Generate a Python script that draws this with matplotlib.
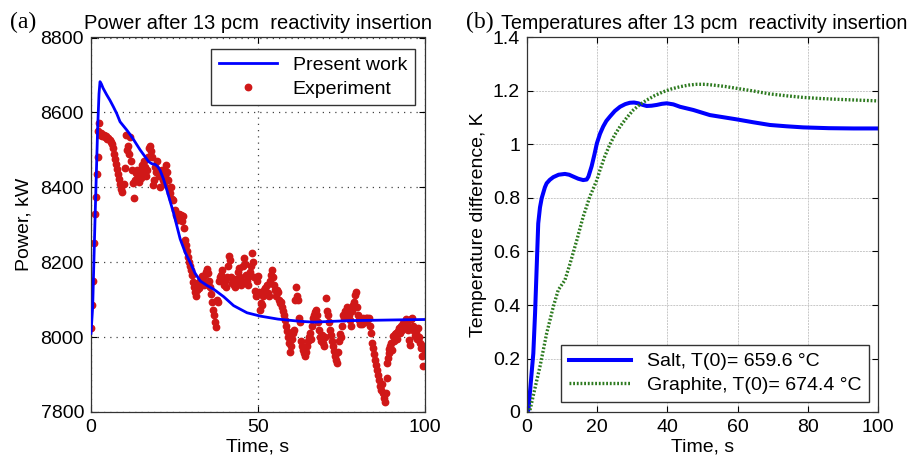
import matplotlib
matplotlib.use('Agg')
import matplotlib.pyplot as plt

plt.rcParams['font.family'] = ['Liberation Sans', 'DejaVu Sans']
plt.rcParams['font.size'] = 14

# (a) power: calculation
calc_time = [0, 0.5, 1.2, 2.0, 2.4, 2.7, 3.1, 3.6, 4.7, 5.7, 6.7, 7.7, 8.7, 9.7, 10.7, 11.7,
             12.7, 14.7, 16.0, 17.2, 18.2, 19.2, 20.0, 20.7, 21.7, 22.7, 24.7, 26.7, 28.2,
             29.7, 31.2, 32.7, 34.7, 36.7, 39.7, 42.7, 46.7, 50.7, 56, 62.8, 66.7,
             72, 77.8, 85, 92, 100]
calc_power = [8010, 8080, 8313, 8560, 8650, 8682, 8676, 8665, 8647, 8632, 8615, 8597, 8575,
              8564, 8553, 8541, 8528, 8500, 8484, 8469, 8463, 8461, 8455, 8445, 8422, 8393,
              8332, 8262, 8226, 8199, 8170, 8150, 8138, 8128, 8108, 8084, 8065, 8056, 8048,
              8042, 8040, 8042, 8044, 8045, 8046, 8047]

# (a) power: experiment
exp_time = [0, 0.3, 0.6, 0.9, 1.2, 1.5, 1.7, 2.0, 2.2, 2.5, 2.8,
            3.1, 3.4, 3.8, 4.1, 4.5, 4.8, 5.2, 5.6, 6.0, 6.3, 6.7, 7.0, 7.3, 7.6, 7.9, 8.2, 8.5,
            8.8, 9.1, 9.4,
            9.8, 10.2, 10.6, 10.9, 11.2, 11.5, 11.8, 12.1, 12.4, 12.7, 13.0, 13.3, 13.6, 13.9,
            14.2, 14.5, 14.8, 15.1, 15.4, 15.7, 16.0, 16.3, 16.6, 16.9, 17.2, 17.5, 17.8, 18.1,
            18.4, 18.7, 19.0, 19.3, 19.6, 19.9, 20.2, 20.5, 20.8, 21.1, 21.4, 21.7, 22.0, 22.3,
            22.6, 22.9, 23.2, 23.5, 23.8, 24.1, 24.4, 24.7, 25.0, 25.3, 25.6, 25.9, 26.2, 26.5,
            26.8, 27.1, 27.4, 27.7, 28.0,
            28.3, 28.6, 28.9, 29.2, 29.5, 29.8, 30.1, 30.4, 30.7, 31.0, 31.3, 31.6, 31.9, 32.2,
            32.5, 32.8, 33.1, 33.4, 33.7, 34.0, 34.3, 34.6, 34.9, 35.2, 35.5, 35.8, 36.1, 36.4,
            36.7, 37.0, 37.3, 37.6, 37.9,
            38.2, 38.5, 38.8, 39.1, 39.4, 39.7, 40.0, 40.3, 40.6, 40.9, 41.2, 41.5, 41.8, 42.1,
            42.4, 42.7, 43.0, 43.3, 43.6, 43.9, 44.2, 44.5, 44.8, 45.1, 45.4, 45.7, 46.0, 46.3,
            46.6, 46.9, 47.2, 47.5, 47.8, 48.1, 48.4, 48.7, 49.0, 49.3, 49.6, 49.9,
            50.2, 50.5, 50.8, 51.1, 51.4, 51.7, 52.0, 52.3, 52.6, 52.9, 53.2, 53.5, 53.8, 54.1,
            54.4, 54.7, 55.0, 55.3, 55.6, 55.9, 56.2, 56.5, 56.8, 57.1, 57.4, 57.7, 58.0, 58.3,
            58.6, 58.9, 59.2, 59.5, 59.8, 60.1, 60.4, 60.7, 61.0, 61.3, 61.6, 61.9,
            62.2, 62.5, 62.8, 63.1, 63.4, 63.7, 64.0, 64.3, 64.6, 64.9, 65.2, 65.5, 65.8, 66.1,
            66.4, 66.7, 67.0, 67.3, 67.6, 67.9, 68.2, 68.5, 68.8, 69.1, 69.4, 69.7, 70.0, 70.3,
            70.6, 70.9, 71.2, 71.5, 71.8, 72.1, 72.4, 72.7, 73.0, 73.3, 73.6, 73.9, 74.2, 74.5,
            74.8,
            75.1, 75.4, 75.7, 76.0, 76.3, 76.6, 76.9, 77.2, 77.5, 77.8, 78.1, 78.4, 78.7, 79.0,
            79.3, 79.6, 79.9, 80.2, 80.5, 80.8, 81.1, 81.4, 81.7, 82.0, 82.3, 82.6, 82.9, 83.2,
            83.5, 83.8, 84.1, 84.4, 84.7, 85.0, 85.3, 85.6, 85.9, 86.2, 86.5, 86.8, 87.1, 87.4,
            87.7, 88.0,
            88.3, 88.5, 88.7, 88.9, 89.1, 89.3, 89.5, 89.8, 90.1, 90.4, 90.7, 91.0, 91.3, 91.6,
            91.9, 92.2, 92.5, 92.8, 93.1, 93.4, 93.7, 94.0, 94.3, 94.6, 94.9, 95.2, 95.5, 95.8,
            96.1, 96.4, 96.7, 97.0, 97.3, 97.6, 97.9, 98.2, 98.5, 98.8, 99.1, 99.4, 99.6, 99.9]
exp_power = [8025, 8085, 8150, 8250, 8330, 8375, 8435, 8480, 8550, 8572, 8540,
             8545, 8538, 8540, 8535, 8537, 8530, 8532, 8525, 8522, 8515, 8505, 8490, 8475, 8462,
             8450, 8435, 8422, 8408, 8395, 8388,
             8410, 8452, 8540, 8500, 8510, 8490, 8535, 8470, 8445, 8411, 8372, 8420, 8439, 8445,
             8430, 8415, 8447, 8425, 8460, 8440, 8470, 8455, 8430, 8445, 8480, 8505, 8510, 8498,
             8480, 8407, 8420, 8455, 8440, 8470, 8445, 8430, 8400, 8433, 8445, 8420, 8410, 8429,
             8460, 8440, 8420, 8399, 8385, 8400, 8370, 8367, 8340, 8327, 8320, 8313, 8330, 8325,
             8327, 8310, 8324, 8290, 8260,
             8245, 8230, 8215, 8200, 8190, 8178, 8165, 8148, 8135, 8120, 8110, 8125, 8145, 8130,
             8150, 8140, 8162, 8150, 8140, 8165, 8175, 8182, 8170, 8150, 8135, 8115, 8095, 8073,
             8060, 8040, 8028, 8100, 8095,
             8150, 8160, 8167, 8180, 8155, 8140, 8150, 8135, 8160, 8189, 8217, 8205, 8160, 8145,
             8150, 8140, 8135, 8155, 8145, 8175, 8185, 8160, 8140, 8150, 8190, 8210, 8195, 8165,
             8150, 8140, 8162, 8175, 8190, 8224, 8200, 8160, 8122, 8110, 8150, 8162,
             8120, 8073, 8090, 8087, 8110, 8125, 8130, 8120, 8140, 8118, 8110, 8150, 8167, 8180,
             8160, 8140, 8125, 8110, 8127, 8120, 8100, 8090, 8095, 8080, 8071, 8060, 8045, 8030,
             8015, 8000, 7985, 7961, 7975, 7995, 8010, 8020, 8100, 8135, 8110, 8100,
             8052, 8040, 7990, 7975, 7965, 7958, 7950, 7960, 7975, 7990, 8000, 8010, 7995, 8030,
             8050, 8060, 8068, 8072, 8060, 8040, 8020, 8000, 7990, 8005, 7985, 7975, 8000, 8105,
             8070, 8060, 8040, 8020, 8005, 7990, 7975, 7962, 7950, 7940, 7932, 7960, 7990, 8007,
             8000,
             8030, 8060, 8050, 8070, 8065, 8080, 8075, 8060, 8045, 8029, 8070, 8085, 8095, 8113,
             8120, 8080, 8060, 8045, 8035, 8040, 8035, 8050, 8045, 8040, 8050, 8052, 8048, 8052,
             8030, 8010, 7985, 7970, 7955, 7940, 7925, 7913, 7900, 7885, 7870, 7860, 7875, 7850,
             7838, 7828,
             7850, 7890, 7932, 7945, 7958, 7967, 7975, 7985, 7965, 8002, 7990, 8007, 8012, 7995,
             8016, 8025, 8010, 8029, 8020, 8038, 8030, 8040, 8047, 8035, 8020, 7993, 7980, 8047,
             8051, 8030, 8015, 8002, 8010, 7995, 8025, 8000, 7985, 7970, 7949, 7922, 7975, 7962]

# (b) temperatures
salt_time = [0, 0.4, 1.8, 2.3, 2.8, 3.2, 3.7, 4.2, 5.1, 5.6, 6.5, 7.5, 9.0, 10.8, 12.0, 13.2,
             14.6, 16.0, 17.0, 17.5, 18.4, 19.2, 19.9, 20.8, 21.7, 22.6, 23.6, 25.0, 26.5, 28.0,
             29.3, 30.5, 31.7, 33.0, 34.1, 35.5, 37.0, 38.4, 39.8, 41.7, 43.6, 47.4, 52.1, 59.7,
             64.5, 69.2, 74.0, 78.7, 86.0, 93.0, 100]
salt_temp = [0, 0.007, 0.219, 0.37, 0.556, 0.705, 0.765, 0.80, 0.84, 0.855, 0.868, 0.878,
             0.887, 0.89, 0.887, 0.88, 0.872, 0.867, 0.869, 0.88, 0.918, 0.962, 1.004, 1.04,
             1.067, 1.088, 1.104, 1.125, 1.141, 1.151, 1.156, 1.157, 1.154, 1.148, 1.144, 1.145,
             1.148, 1.152, 1.154, 1.15, 1.141, 1.129, 1.11, 1.094, 1.083, 1.073, 1.068, 1.064,
             1.061, 1.06, 1.06]
graph_time = [0, 0.85, 2.2, 3.7, 5.6, 7.5, 8.9, 10.8, 12.3, 14.2, 16.0, 17.9, 19.9, 20.8, 22.2,
              23.6, 25.0, 26.5, 28.4, 30.3, 32.2, 34.1, 36.4, 38.8, 41.2, 43.6, 46.0, 48.3,
              50.7, 53.1, 56.4, 59.7, 64.5, 69.2, 74.0, 78.7, 83.5, 88.2, 94.0, 100]
graph_temp = [0, 0.007, 0.085, 0.17, 0.294, 0.394, 0.456, 0.493, 0.556, 0.643, 0.73, 0.805,
              0.867, 0.905, 0.957, 1.0, 1.036, 1.067, 1.1, 1.129, 1.15, 1.166, 1.183, 1.197,
              1.208, 1.216, 1.222, 1.225, 1.225, 1.222, 1.217, 1.21, 1.2, 1.189, 1.182, 1.176,
              1.172, 1.169, 1.166, 1.163]

fig = plt.figure(figsize=(9.14, 4.68), dpi=100)
ax1 = fig.add_axes([91 / 914, 56 / 468, 334 / 914, 374.5 / 468])
ax2 = fig.add_axes([527 / 914, 56 / 468, 351 / 914, 374.5 / 468])

# 左图
ax1.plot(exp_time, exp_power, 'o', color='#d01818', markersize=4.6, label='Experiment', zorder=2)
ax1.plot(calc_time, calc_power, '-', color='#0000ff', lw=2.0, label='Present work', zorder=3)
ax1.set_xlim(0, 100)
ax1.set_ylim(7800, 8800)
ax1.set_xticks([0, 50, 100])
ax1.set_yticks([7800, 8000, 8200, 8400, 8600, 8800])
ax1.grid(True, color='#444444', ls=(0, (1, 4)), lw=0.9)
ax1.set_xlabel('Time, s', labelpad=2)
ax1.set_ylabel('Power, kW', labelpad=6)
ax1.set_title('Power after 13 pcm  reactivity insertion', fontsize=14.5, pad=6)
h, l = ax1.get_legend_handles_labels()
ax1.legend([h[1], h[0]], [l[1], l[0]], loc='upper right', bbox_to_anchor=(0.97, 0.97),
           borderaxespad=0, fancybox=False, edgecolor='#333333', framealpha=1,
           handlelength=3.0, labelspacing=0.3, numpoints=1)

# 右图
ax2.plot(salt_time, salt_temp, '-', color='#0000ff', lw=2.9, label='Salt, T(0)= 659.6 °C')
ax2.plot(graph_time, graph_temp, color='#2d7a1f', lw=2.4, ls=(0, (0.55, 0.55)),
         label='Graphite, T(0)= 674.4 °C')
ax2.set_xlim(0, 100)
ax2.set_ylim(0, 1.4)
ax2.set_xticks([0, 20, 40, 60, 80, 100])
ax2.set_yticks([0, 0.2, 0.4, 0.6, 0.8, 1.0, 1.2, 1.4])
ax2.set_yticklabels(['0', '0.2', '0.4', '0.6', '0.8', '1', '1.2', '1.4'])
ax2.grid(True, color='#c8c8c8', ls=(0, (2, 1)), lw=0.7)
ax2.set_xlabel('Time, s', labelpad=2)
ax2.set_ylabel('Temperature difference, K', labelpad=4)
ax2.set_title('Temperatures after 13 pcm  reactivity insertion', fontsize=14.2, pad=6,
              x=0.505)
ax2.legend(loc='lower right', bbox_to_anchor=(0.975, 0.0275), borderaxespad=0,
           fancybox=False, edgecolor='#333333', framealpha=1, handlelength=3.2,
           labelspacing=0.3)

for ax in (ax1, ax2):
    ax.set_axisbelow(True)
    ax.tick_params(direction='in', top=True, right=True, length=4, width=0.8, pad=5,
                   labelsize=14)
    for s in ax.spines.values():
        s.set_color('#333333')
        s.set_linewidth(0.9)

fig.text(10 / 914, 1 - 22 / 468, '(a)', family='Liberation Serif', fontsize=17, va='center')
fig.text(466 / 914, 1 - 22 / 468, '(b)', family='Liberation Serif', fontsize=17, va='center')

fig.savefig('out.png', dpi=100)
